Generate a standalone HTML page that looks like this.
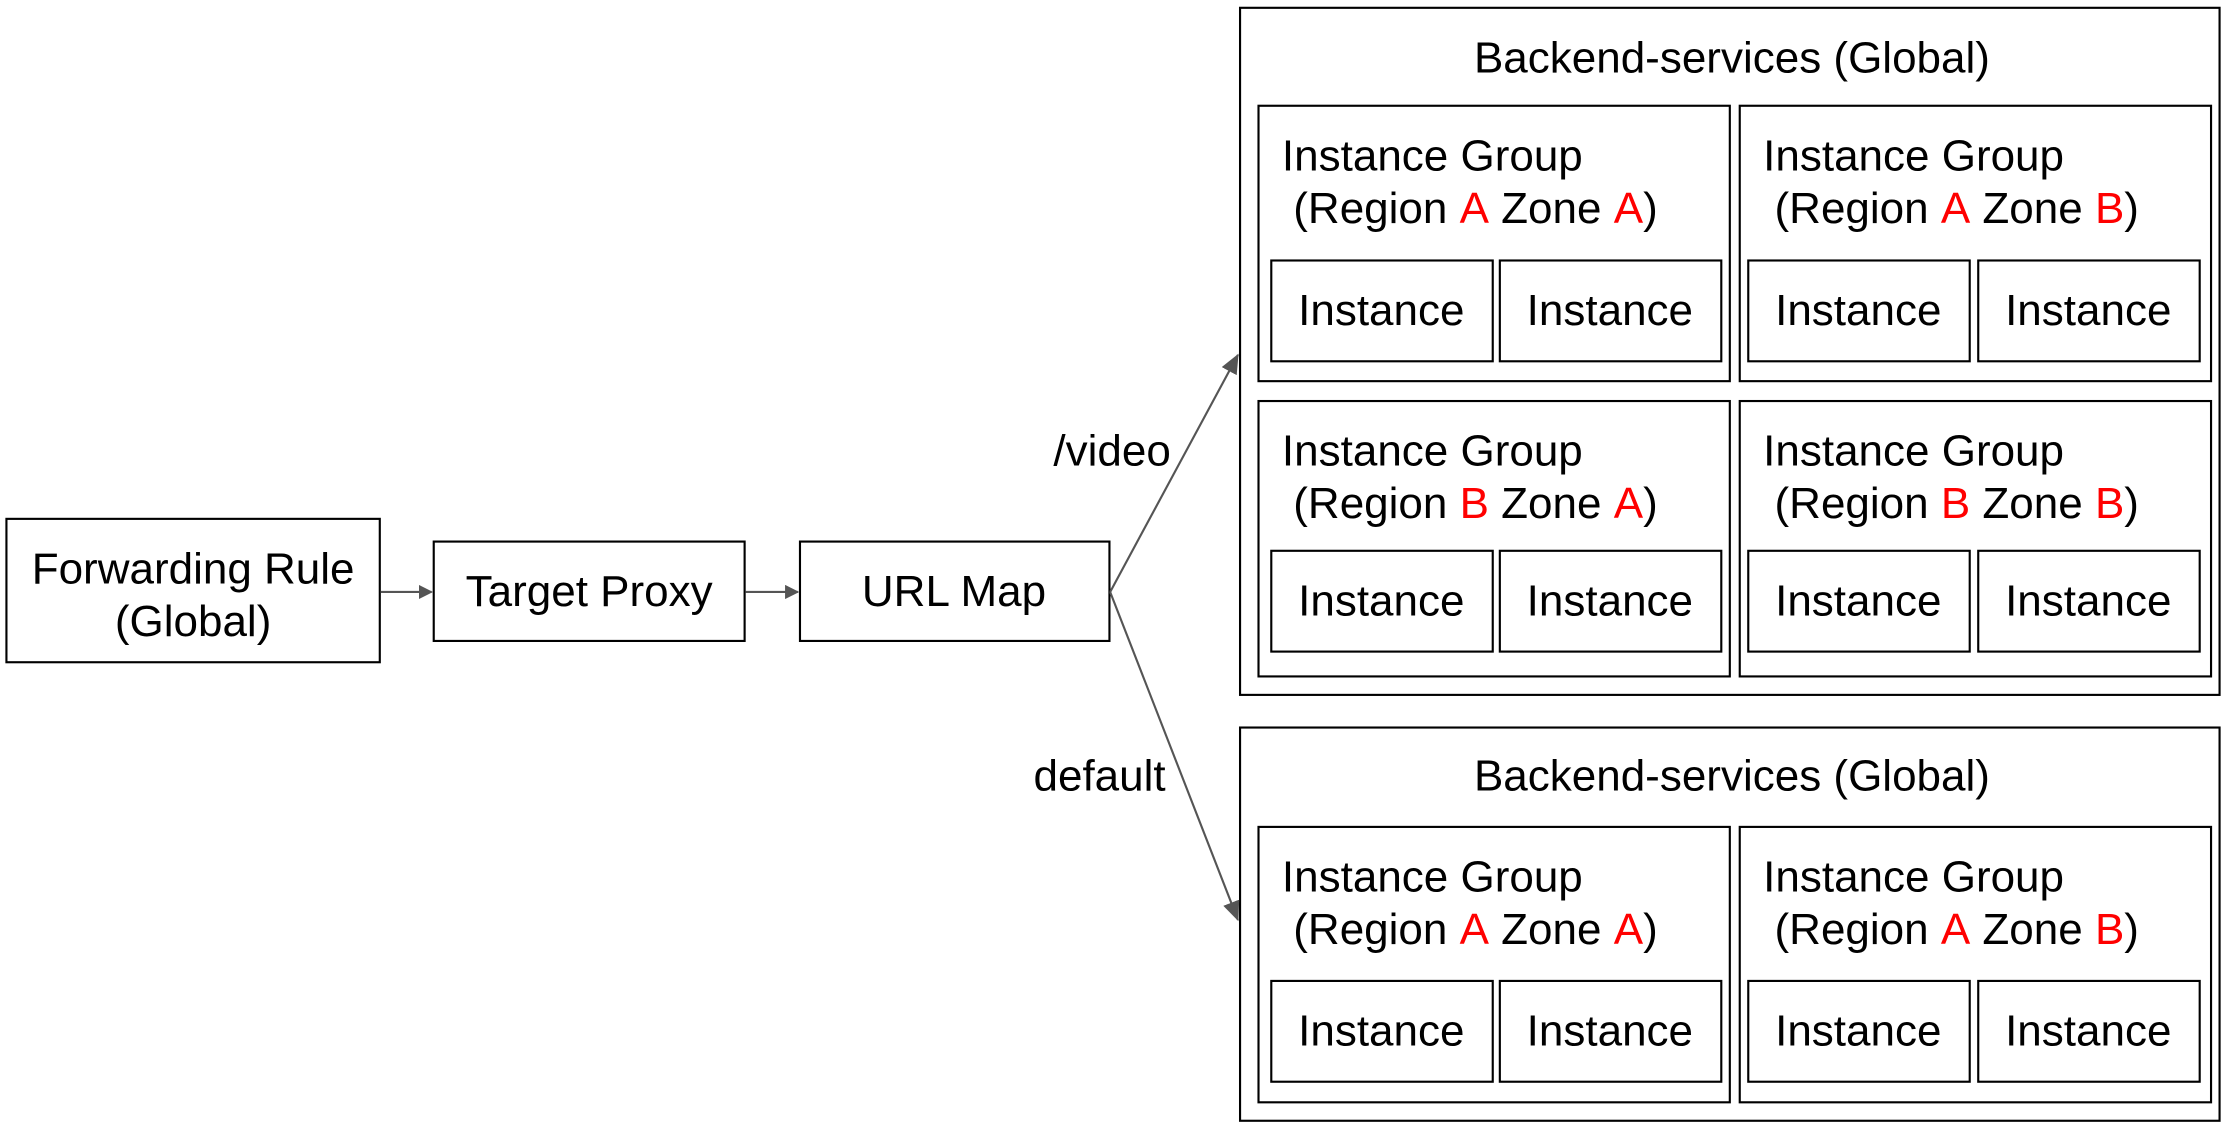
<!DOCTYPE html>
<html><head><meta charset="utf-8"><style>
html,body{margin:0;padding:0;background:#fff;}
svg{display:block;}
text{font-family:"Liberation Sans",Arial,sans-serif;font-size:31px;fill:#000;}
.r{fill:#ff0000;}
</style></head><body>
<svg width="2226" height="1128" viewBox="0 0 1568 794.6" xmlns="http://www.w3.org/2000/svg">
<defs><marker id="a" markerWidth="10" markerHeight="10" refX="9" refY="5" orient="auto" markerUnits="userSpaceOnUse"><path d="M0,0 L10,5 L0,10 z" fill="#555"/></marker>
<marker id="b" markerWidth="14" markerHeight="12" refX="13" refY="6" orient="auto" markerUnits="userSpaceOnUse"><path d="M0,0 L14,6 L0,12 z" fill="#555"/></marker></defs>
<g fill="none" stroke="#000" stroke-width="1.5">
<rect x="4.5" y="365.5" width="263" height="101"/>
<rect x="305.5" y="381.5" width="219" height="70"/>
<rect x="563.5" y="381.5" width="218" height="70"/>
<rect x="873.5" y="5.5" width="690" height="484"/>
<rect x="873.5" y="512.5" width="690" height="277"/>
<rect x="886.5" y="74.5" width="332" height="194"/>
<rect x="1225.5" y="74.5" width="332" height="194"/>
<rect x="886.5" y="282.5" width="332" height="194"/>
<rect x="1225.5" y="282.5" width="332" height="194"/>
<rect x="886.5" y="582.5" width="332" height="194"/>
<rect x="1225.5" y="582.5" width="332" height="194"/>
<g id="ins">
<rect x="895.5" y="183.5" width="156" height="71"/>
<rect x="1056.5" y="183.5" width="156" height="71"/>
<rect x="1231.5" y="183.5" width="156" height="71"/>
<rect x="1393.5" y="183.5" width="156" height="71"/>
</g>
<use href="#ins" y="204.5"/>
<use href="#ins" y="507.5"/>
</g>
<g stroke="#555" stroke-width="1.5" fill="none">
<line x1="268" y1="417" x2="304" y2="417" marker-end="url(#a)"/>
<line x1="525" y1="417" x2="562" y2="417" marker-end="url(#a)"/>
<line x1="782" y1="417" x2="872" y2="250" marker-end="url(#b)"/>
<line x1="782" y1="417" x2="872" y2="648" marker-end="url(#b)"/>
</g>
<text x="136" y="411" text-anchor="middle">Forwarding Rule</text>
<text x="136" y="448" text-anchor="middle">(Global)</text>
<text x="415" y="427" text-anchor="middle">Target Proxy</text>
<text x="672" y="427" text-anchor="middle">URL Map</text>
<text x="742" y="328">/video</text>
<text x="728" y="557">default</text>
<text x="1220" y="51" text-anchor="middle">Backend-services (Global)</text>
<text x="1220" y="557" text-anchor="middle">Backend-services (Global)</text>
<g id="ig1">
<text x="903" y="120">Instance Group</text>
<text x="911" y="157">(Region <tspan class="r">A</tspan> Zone <tspan class="r">A</tspan>)</text>
<text x="1242" y="120">Instance Group</text>
<text x="1250" y="157">(Region <tspan class="r">A</tspan> Zone <tspan class="r">B</tspan>)</text>
</g>
<text x="903" y="328">Instance Group</text>
<text x="911" y="365">(Region <tspan class="r">B</tspan> Zone <tspan class="r">A</tspan>)</text>
<text x="1242" y="328">Instance Group</text>
<text x="1250" y="365">(Region <tspan class="r">B</tspan> Zone <tspan class="r">B</tspan>)</text>
<use href="#ig1" y="508"/>
<g id="it" text-anchor="middle">
<text x="973" y="229">Instance</text>
<text x="1134" y="229">Instance</text>
<text x="1309" y="229">Instance</text>
<text x="1471" y="229">Instance</text>
</g>
<use href="#it" y="204.5"/>
<use href="#it" y="507.5"/>
</svg>
</body></html>
